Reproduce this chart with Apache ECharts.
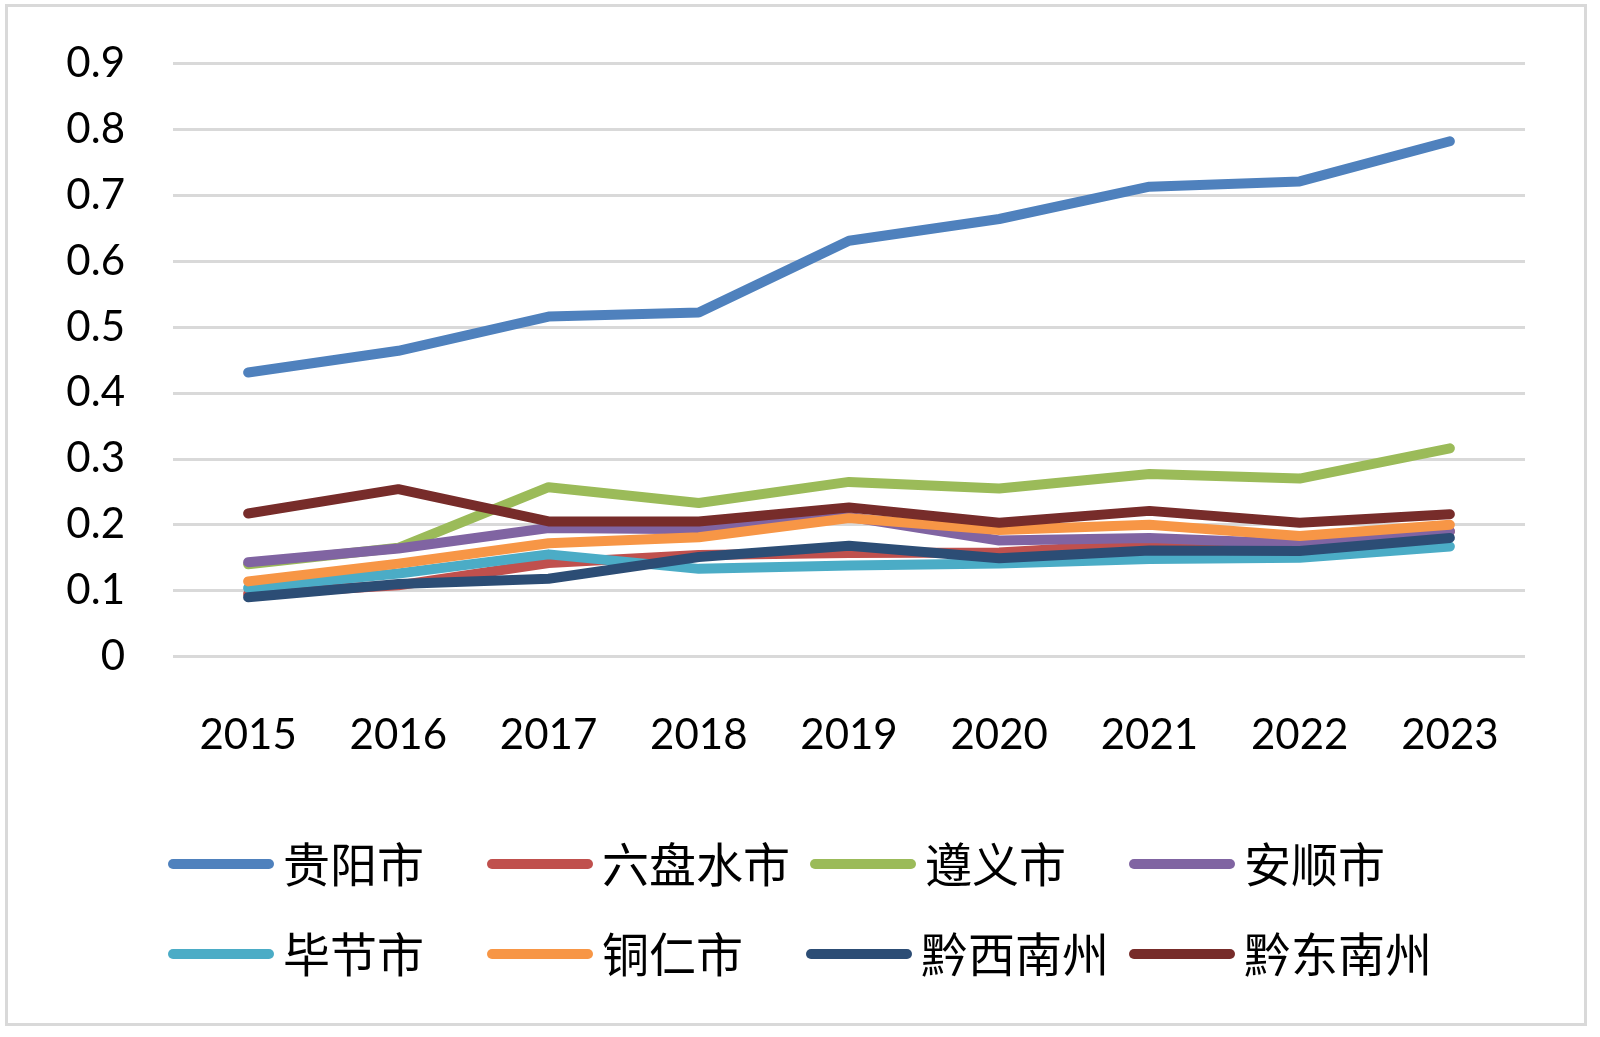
<!DOCTYPE html>
<html>
<head>
<meta charset="utf-8">
<script src="https://cdn.jsdelivr.net/npm/echarts@6/dist/echarts.min.js"></script>
<style>
html,body{margin:0;padding:0;background:#fff;}
#c{width:1600px;height:1037px;}
</style>
</head>
<body>
<div id="c"></div>
<script>
var years = ['2015','2016','2017','2018','2019','2020','2021','2022','2023'];
var yTicks = [0, 0.1, 0.2, 0.3, 0.4, 0.5, 0.6, 0.7, 0.8, 0.9];
var names = ['贵阳市','六盘水市','遵义市','安顺市','毕节市','铜仁市','黔西南州','黔东南州'];
var colors = ['#4F81BD','#C0504D','#9BBB59','#8064A2','#4BACC6','#F79646','#2C4D75','#772C2A'];
var guiyang    = [0.431,0.464,0.516,0.522,0.631,0.664,0.713,0.721,0.782];
var liupanshui = [0.095,0.108,0.142,0.154,0.157,0.158,0.171,0.166,0.190];
var zunyi      = [0.140,0.165,0.257,0.233,0.265,0.255,0.277,0.270,0.316];
var anshun     = [0.143,0.164,0.195,0.193,0.212,0.176,0.180,0.171,0.190];
var bijie      = [0.104,0.126,0.155,0.133,0.138,0.141,0.148,0.150,0.167];
var tongren    = [0.114,0.141,0.172,0.181,0.210,0.192,0.200,0.183,0.200];
var qianxinan  = [0.090,0.110,0.118,0.151,0.168,0.149,0.161,0.160,0.180];
var qiandongnan= [0.217,0.254,0.205,0.205,0.226,0.203,0.221,0.203,0.216];
var allData = [guiyang, liupanshui, zunyi, anshun, bijie, tongren, qianxinan, qiandongnan];

var pill = 'path://M5,0 L101,0 A5,5 0 0 1 101,10 L5,10 A5,5 0 0 1 5,0 Z';

var chart = echarts.init(document.getElementById('c'), null, {renderer:'canvas'});
var series = names.map(function(n, i){
  return {
    name: n, type: 'line', data: allData[i],
    symbol: 'none', smooth: false,
    lineStyle: {color: colors[i], width: 10, cap: 'round', join: 'round'},
    itemStyle: {color: colors[i]},
    emphasis: {disabled: true}
  };
});
chart.setOption({
  animation: false,
  backgroundColor: '#fff',
  graphic: [{
    type: 'rect', left: 5, top: 4, z: -1,
    shape: {x: 0, y: 0, width: 1579, height: 1019},
    style: {fill: '#fff', stroke: '#d9d9d9', lineWidth: 3}
  }],
  grid: {left: 173, right: 75, top: 63.5, bottom: 1037 - 656.5, containLabel: false},
  xAxis: {
    type: 'category', data: years, boundaryGap: true,
    axisLine: {show: false}, axisTick: {show: false},
    axisLabel: {color: '#000', fontSize: 42, fontFamily: 'Lato', margin: 58}
  },
  yAxis: {
    type: 'value', min: yTicks[0], max: yTicks[yTicks.length-1], interval: 0.1,
    axisLine: {show: false}, axisTick: {show: false},
    axisLabel: {color: '#000', fontSize: 42, fontFamily: 'Lato', margin: 48,
      formatter: function(v){ return String(Math.round(v*10)/10); }},
    splitLine: {lineStyle: {color: '#d9d9d9', width: 3}}
  },
  legend: {
    data: names.map(function(n, i){ return {name: n, icon: pill, itemStyle: {color: colors[i]}}; }),
    left: 163, top: 824, width: 1300,
    orient: 'horizontal', itemWidth: 106, itemHeight: 10, itemGap: 20,
    textStyle: {color: '#000', fontSize: 47, fontFamily: 'Noto Sans CJK SC',
      width: 184, lineHeight: 70, padding: [0,0,0,4], overflow: 'none'}
  },
  series: series
});
</script>
</body>
</html>
